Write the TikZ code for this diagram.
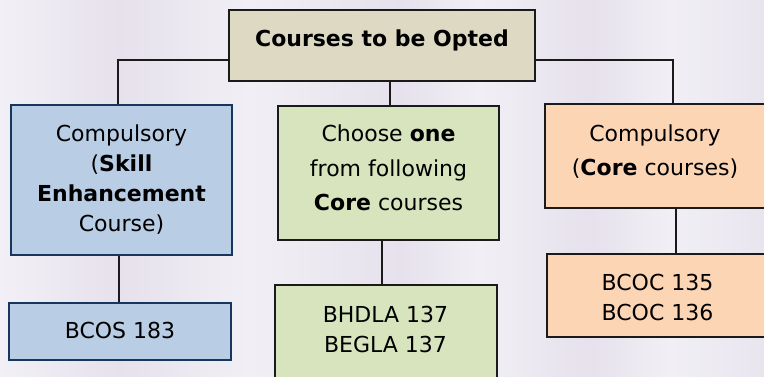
\documentclass[tikz,border=0pt]{standalone}
\usepackage{fontspec}
\setmainfont{DejaVu Sans}
\definecolor{bgA}{HTML}{F2F0F6}
\definecolor{bgB}{HTML}{E6E1EC}
\definecolor{bgC}{HTML}{F1EFF5}
\definecolor{bgD}{HTML}{E9E5EF}
\definecolor{topfill}{HTML}{DDD9C3}
\definecolor{bluefill}{HTML}{B9CDE5}
\definecolor{blueline}{HTML}{17365D}
\definecolor{greenfill}{HTML}{D7E4BD}
\definecolor{orangefill}{HTML}{FCD5B5}
\definecolor{lineclr}{HTML}{1A1A1A}
\begin{document}
\begin{tikzpicture}[x=1pt,y=-1pt,
  box/.style={draw=lineclr, line width=2pt, inner sep=0pt, rectangle},
  bluebox/.style={box, draw=blueline, fill=bluefill},
  txt/.style={inner sep=0pt, align=center, text=black, font=\fontsize{22}{30}\selectfont},
  conn/.style={draw=lineclr, line width=2pt}]
\useasboundingbox (0,0) rectangle (764,376);
% background
\shade[left color=bgA, right color=bgB] (0,0) rectangle (120,376);
\shade[left color=bgB, right color=bgC] (120,0) rectangle (250,376);
\shade[left color=bgC, right color=bgB] (250,0) rectangle (400,376);
\shade[left color=bgB, right color=bgC] (400,0) rectangle (480,376);
\shade[left color=bgC, right color=bgB] (480,0) rectangle (590,376);
\shade[left color=bgB, right color=bgC] (590,0) rectangle (670,376);
\shade[left color=bgC, right color=bgD] (670,0) rectangle (764,376);
% boxes
\node[box, fill=topfill, minimum width=306pt, minimum height=71pt] (top) at (382,45.5) {};
\node[bluebox, minimum width=221pt, minimum height=150pt] (blue) at (121.5,180) {};
\node[box, fill=greenfill, minimum width=221pt, minimum height=134pt] (green) at (388.5,173) {};
\node[box, fill=orangefill, minimum width=221pt, minimum height=104pt] (orange) at (655.5,156) {};
\node[bluebox, minimum width=222pt, minimum height=57pt] (bcos) at (120,331.5) {};
\node[box, fill=greenfill, minimum width=222pt, minimum height=95pt] (green2) at (386,332.5) {};
\node[box, fill=orangefill, minimum width=221pt, minimum height=83pt] (orange2) at (657.5,295.5) {};
% connectors
\draw[conn] ([yshift=-14.5pt]top.west) -| ([xshift=-3.5pt]blue.north);
\draw[conn] ([yshift=-14.5pt]top.east) -| ([xshift=17.5pt]orange.north);
\draw[conn] ([xshift=8pt]top.south) -- ([xshift=8pt]top.south |- green.north);
\draw[conn] ([xshift=-2.5pt]blue.south) -- ([xshift=-2.5pt]blue.south |- bcos.north);
\draw[conn] ([xshift=-6.5pt]green.south) -- ([xshift=-6.5pt]green.south |- green2.north);
\draw[conn] ([xshift=20.5pt]orange.south) -- ([xshift=20.5pt]orange.south |- orange2.north);
% texts
\node[txt] (ttop) at (382,40.2) {\textbf{Courses to be Opted}};
\node[txt] (tblue) at (121.5,180) {Compulsory\\(\textbf{Skill}\\\textbf{Enhancement}\\Course)};
\node[txt, font=\fontsize{22}{34.5}\selectfont] (tgreen) at (388.5,168.2) {Choose \textbf{one}\\from following\\\textbf{Core} courses};
\node[txt, font=\fontsize{22}{34}\selectfont] (torange) at (655,152) {Compulsory\\(\textbf{Core} courses)};
\node[txt] (tbcos) at (120,330) {BCOS 183};
\node[txt] (tgreen2) at (385.5,329) {BHDLA 137\\BEGLA 137};
\node[txt] (torange2) at (657.5,297) {BCOC 135\\BCOC 136};
\end{tikzpicture}
\end{document}
